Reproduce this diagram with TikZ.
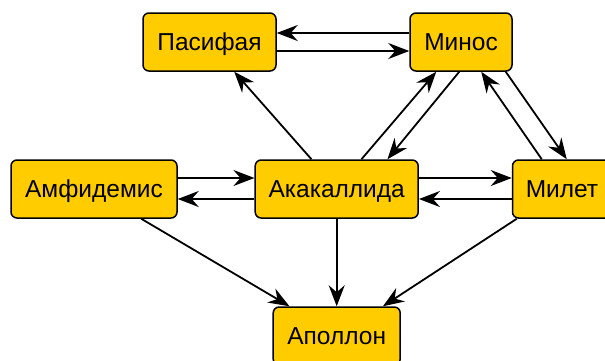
\documentclass[tikz,border=0pt]{standalone}
\usepackage{fontspec}
\setmainfont{Liberation Sans}
\usetikzlibrary{arrows.meta}
\definecolor{boxfill}{HTML}{FFCC00}
\tikzset{
  person/.style={draw=black, line width=1.5pt, fill=boxfill, rounded corners=6pt,
    minimum height=58pt, inner xsep=0pt, inner ysep=0pt,
    text height=17.5pt, text depth=0pt,
    font=\fontsize{24.5}{29}\selectfont},
  link/.style={draw=black, line width=1.8pt,
    -{Stealth[length=21pt, width=16pt, inset=7pt]}}
}
\begin{document}
\begin{tikzpicture}[x=1pt, y=1pt]
\useasboundingbox (0,0) rectangle (605,-360);

\node[person, minimum width=133pt] (pas)  at (209.5,-42) {Пасифая};
\node[person, minimum width=102pt] (min)  at (461,-42)   {Минос};
\node[person, minimum width=166pt] (amf)  at (94,-189)   {Амфидемис};
\node[person, minimum width=163pt] (akak) at (336.7,-189) {Акакаллида};
\node[person, minimum width=99pt]  (mil)  at (562,-189)  {Милет};
\node[person, minimum width=127pt] (apo)  at (336.7,-336) {Аполлон};

% top row pair
\draw[link] ([yshift=9pt]min.west) -- ([yshift=9pt]pas.east);
\draw[link] ([yshift=-9pt]pas.east) -- ([yshift=-9pt]min.west);

% middle row pairs
\draw[link] ([yshift=11pt]amf.east) -- ([yshift=11pt]akak.west);
\draw[link] ([yshift=-10pt]akak.west) -- ([yshift=-10pt]amf.east);
\draw[link] ([yshift=11pt]akak.east) -- ([yshift=11pt]mil.west);
\draw[link] ([yshift=-10pt]mil.west) -- ([yshift=-10pt]akak.east);

% links to the top row
\draw[link] ([xshift=57pt]akak.north west) -- ([xshift=92pt]pas.south west);
\draw[link] ([xshift=107pt]akak.north west) -- ([xshift=27pt]min.south west);
\draw[link] ([xshift=50pt]min.south west) -- ([xshift=133pt]akak.north west);
\draw[link] ([xshift=30pt]mil.north west) -- ([xshift=72pt]min.south west);
\draw[link] ([xshift=-7pt]min.south east) -- ([xshift=55pt]mil.north west);

% links to the bottom node
\draw[link] ([xshift=131pt]amf.south west) -- ([xshift=17pt]apo.north west);
\draw[link] (akak.south) -- (apo.north);
\draw[link] ([xshift=5pt]mil.south west) -- ([xshift=-18pt]apo.north east);
\end{tikzpicture}
\end{document}
